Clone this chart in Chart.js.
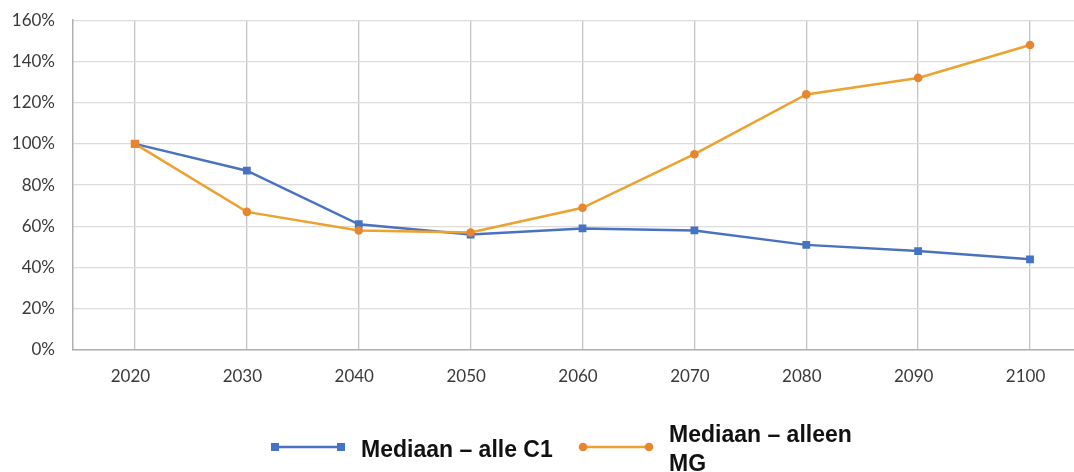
<!DOCTYPE html>
<html>
<head>
<meta charset="utf-8">
<script src="https://cdn.jsdelivr.net/npm/chart.js@4.4.1/dist/chart.umd.min.js"></script>
<style>
  html, body { margin: 0; padding: 0; background: #ffffff; overflow: hidden; }
  #wrap { width: 1074px; height: 472px; position: relative; overflow: hidden; }
  #c { position: absolute; left: 0; top: -8px; }
</style>
</head>
<body>
<div id="wrap"><canvas id="c" width="1080" height="480"></canvas></div>
<script>
// ---- data ----
const years = [2020, 2030, 2040, 2050, 2060, 2070, 2080, 2090, 2100];
const medianAllC1 = [100, 87, 61, 56, 59, 58, 51, 48, 44];
const medianOnlyMG = [100, 67, 58, 57, 69, 95, 124, 132, 148];
const seriesLabels = ['Mediaan – alle C1', 'Mediaan – alleen MG'];
const yTicks = [0, 20, 40, 60, 80, 100, 120, 140, 160];

// ---- styling ----
const BLUE_LINE = '#4a72c0';
const BLUE_PT = '#4472c4';
const ORANGE_LINE = '#eda12e';
const ORANGE_PT = '#e8862f';
const TEXT = '#3a3a3a';
const CANVAS_SHIFT = 8;

const toPoints = vals => vals.map((v, i) => ({ x: years[i], y: v }));

const legendPlugin = {
  id: 'customLegend',
  afterDraw(chart) {
    const ctx = chart.ctx;
    const ds = chart.data.datasets;
    ctx.save();
    ctx.font = 'bold 23px "Liberation Sans", Arial, sans-serif';
    ctx.textBaseline = 'middle';
    ctx.textAlign = 'left';
    const cy = 447 + CANVAS_SHIFT;
    const itemStarts = [275, 583];
    const lineLen = 66, textGap = 20, maxTextW = 200, lineH = 29;
    ds.forEach((d, i) => {
      const x = itemStarts[i];
      const words = d.label.split(' ');
      const lines = [];
      let cur = '';
      words.forEach(w => {
        const t = cur ? cur + ' ' + w : w;
        if (ctx.measureText(t).width > maxTextW && cur) { lines.push(cur); cur = w; }
        else cur = t;
      });
      if (cur) lines.push(cur);
      ctx.strokeStyle = d.borderColor;
      ctx.lineWidth = 2.5;
      ctx.beginPath();
      ctx.moveTo(x, cy);
      ctx.lineTo(x + lineLen, cy);
      ctx.stroke();
      ctx.fillStyle = d.pointBackgroundColor;
      [x, x + lineLen].forEach(px => {
        ctx.beginPath();
        if (d.legendStyle === 'rect') ctx.rect(px - 4, cy - 4, 8, 8);
        else ctx.arc(px, cy, 4.3, 0, Math.PI * 2);
        ctx.fill();
      });
      ctx.fillStyle = '#111111';
      const tx = x + lineLen + textGap;
      const startY = cy + 3.5 - (lines.length - 1) * lineH / 2;
      lines.forEach((ln, k) => ctx.fillText(ln, tx, startY + k * lineH));
    });
    ctx.restore();
  }
};

new Chart(document.getElementById('c'), {
  type: 'line',
  data: {
    datasets: [
      {
        label: seriesLabels[0],
        data: toPoints(medianAllC1),
        borderColor: BLUE_LINE,
        backgroundColor: BLUE_PT,
        pointBackgroundColor: BLUE_PT,
        pointBorderColor: BLUE_PT,
        pointStyle: 'rect',
        pointRadius: 5.5,
        pointBorderWidth: 0,
        borderWidth: 2.5,
        tension: 0,
        order: 2,
        legendStyle: 'rect'
      },
      {
        label: seriesLabels[1],
        data: toPoints(medianOnlyMG),
        borderColor: ORANGE_LINE,
        backgroundColor: ORANGE_PT,
        pointBackgroundColor: ORANGE_PT,
        pointBorderColor: ORANGE_PT,
        pointStyle: medianOnlyMG.map((v, i) => i === 0 ? 'rect' : 'circle'),
        pointRadius: medianOnlyMG.map((v, i) => i === 0 ? 6 : 4.3),
        pointBorderWidth: 0,
        borderWidth: 2.5,
        tension: 0,
        order: 1,
        legendStyle: 'circle'
      }
    ]
  },
  options: {
    responsive: false,
    animation: false,
    events: [],
    layout: { padding: { top: 0, right: 0, bottom: 0, left: 0 } },
    plugins: { legend: { display: false }, tooltip: { enabled: false } },
    scales: {
      x: {
        type: 'linear',
        min: 2014.46,
        max: 2103.93,
        afterBuildTicks(scale) { scale.ticks = years.map(v => ({ value: v })); },
        afterFit(scale) { scale.height = 122; },
        grid: { color: '#c4c4c4', lineWidth: 1.3, drawTicks: false },
        border: { color: '#b0b0b0', width: 1.5 },
        ticks: {
          padding: 16,
          labelOffset: -4.5,
          color: TEXT,
          font: { family: 'Lato', size: 17 },
          callback: v => String(v),
          maxRotation: 0,
          autoSkip: false
        }
      },
      y: {
        min: 0,
        max: 160,
        afterBuildTicks(scale) { scale.ticks = yTicks.map(v => ({ value: v })); },
        afterFit(scale) { scale.width = 73; },
        grid: { color: '#dcdcdc', lineWidth: 1.3, drawTicks: false },
        border: { color: '#b0b0b0', width: 1.5 },
        ticks: {
          padding: 18,
          color: TEXT,
          font: { family: 'Lato', size: 17 },
          callback: v => v + '%'
        }
      }
    }
  },
  plugins: [legendPlugin]
});
</script>
</body>
</html>
